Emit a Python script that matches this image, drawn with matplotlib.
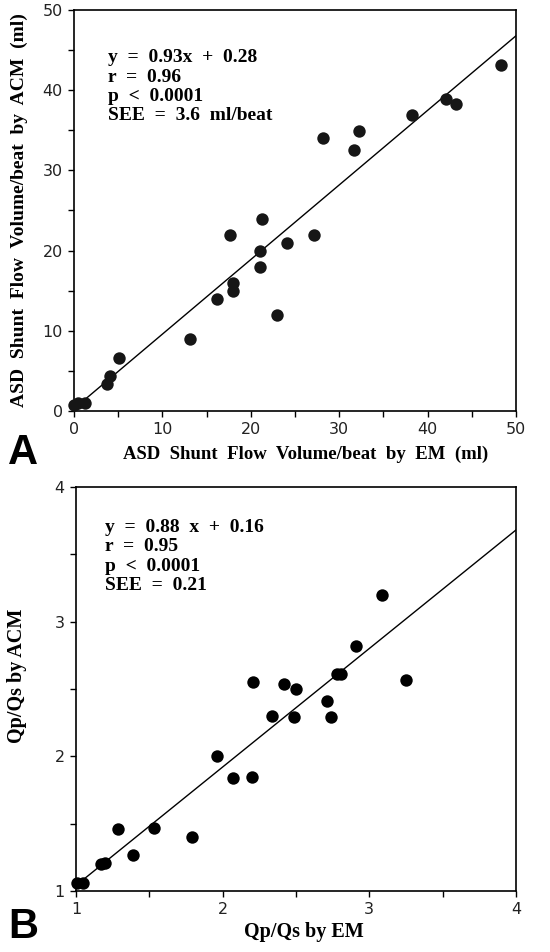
import numpy as np
import matplotlib
matplotlib.use("Agg")
import matplotlib.pyplot as plt
from matplotlib.ticker import MultipleLocator

# Panel A: shunt flow volume per beat, EM vs ACM (ml)
em_vol = [0.0, 0.4, 1.3, 3.7, 4.1, 5.1, 13.1, 16.2, 17.6, 18.0, 18.0, 21.1,
          21.1, 21.3, 23.0, 24.1, 27.1, 28.2, 31.7, 32.2, 38.2, 42.1, 43.2, 48.3]
acm_vol = [0.8, 1.0, 1.0, 3.4, 4.4, 6.6, 9.0, 14.0, 22.0, 16.0, 15.0, 20.0,
           18.0, 23.9, 12.0, 21.0, 22.0, 34.0, 32.5, 34.9, 36.9, 38.9, 38.3, 43.1]
fit_a = (0.93, 0.28)
stats_a = ["y  =  0.93x  +  0.28", "r  =  0.96", "p  <  0.0001", "SEE  =  3.6  ml/beat"]

# Panel B: Qp/Qs, EM vs ACM
em_qpqs = [1.01, 1.05, 1.17, 1.20, 1.29, 1.39, 1.53, 1.79, 1.96, 2.07, 2.20, 2.21,
           2.34, 2.42, 2.49, 2.50, 2.71, 2.74, 2.78, 2.81, 2.91, 3.09, 3.25]
acm_qpqs = [1.06, 1.06, 1.20, 1.21, 1.46, 1.27, 1.47, 1.40, 2.00, 1.84, 1.85, 2.55,
            2.30, 2.54, 2.29, 2.50, 2.41, 2.29, 2.61, 2.61, 2.82, 3.20, 2.57]
fit_b = (0.88, 0.16)
stats_b = ["y  =  0.88  x  +  0.16", "r  =  0.95", "p  <  0.0001", "SEE  =  0.21"]

serif = "Liberation Serif"
sans = "DejaVu Sans"

fig = plt.figure(figsize=(5.5, 9.52), dpi=100)


def panel(rect, x, y, fit, stats, lim, major, minor, dot_color, text_pos):
    ax = fig.add_axes(rect)
    ax.scatter(x, y, s=80, color=dot_color, zorder=3, clip_on=False, linewidths=0)
    xx = np.array(lim)
    ax.plot(xx, fit[0] * xx + fit[1], color="black", lw=1.0, zorder=2)
    ax.set_xlim(lim)
    ax.set_ylim(lim)
    ax.xaxis.set_major_locator(MultipleLocator(major))
    ax.yaxis.set_major_locator(MultipleLocator(major))
    ax.xaxis.set_minor_locator(MultipleLocator(minor))
    ax.yaxis.set_minor_locator(MultipleLocator(minor))
    ax.tick_params(which="both", direction="out", length=4, width=1.0, pad=4,
                   labelsize=11.5, labelcolor="#222222")
    for lab in ax.get_xticklabels() + ax.get_yticklabels():
        lab.set_family(sans)
    for s in ax.spines.values():
        s.set_linewidth(1.2)
    # stats block, one line at a time
    for i, line in enumerate(stats):
        ax.annotate(line, xy=text_pos, xycoords="axes fraction",
                    xytext=(0, -14 * i), textcoords="offset points",
                    fontsize=14, fontweight="bold", family=serif, va="baseline")
    return ax


ax_a = panel([0.1345, 0.5683, 0.8036, 0.4212], em_vol, acm_vol, fit_a, stats_a,
             (0, 50), 10, 5, "#161616", (0.077, 0.870))
ax_b = panel([0.138, 0.0641, 0.800, 0.4244], em_qpqs, acm_qpqs, fit_b, stats_b,
             (1, 4), 1, 0.5, "black", (0.066, 0.889))

# axis titles placed like the printed figure
fig.text(306 / 550, 1 - 459 / 952, "ASD  Shunt  Flow  Volume/beat  by  EM  (ml)",
         ha="center", va="baseline", fontsize=13.5, fontweight="bold", family=serif)
fig.text(19 / 550, 1 - 210 / 952, "ASD  Shunt  Flow  Volume/beat  by  ACM  (ml)",
         ha="center", va="center", rotation=90, fontsize=14, fontweight="bold", family=serif)
fig.text(304 / 550, 1 - 937 / 952, "Qp/Qs by EM",
         ha="center", va="baseline", fontsize=14.5, fontweight="bold", family=serif)
fig.text(17 / 550, 1 - 676 / 952, "Qp/Qs by ACM",
         ha="center", va="center", rotation=90, fontsize=14.5, fontweight="bold", family=serif)

# panel letters
fig.text(8 / 550, 1 - 464 / 952, "A", fontsize=30, fontweight="bold",
         family="Liberation Sans", va="baseline")
fig.text(8 / 550, 1 - 938 / 952, "B", fontsize=30, fontweight="bold",
         family="Liberation Sans", va="baseline")

fig.savefig("out.png", dpi=100)
